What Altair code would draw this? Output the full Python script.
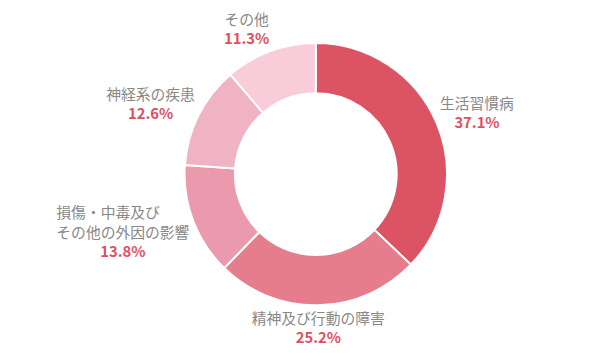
import math
import altair as alt
import pandas as pd

# ---- data ----
categories = ["生活習慣病", "精神及び行動の障害", "損傷・中毒及び\nその他の外因の影響", "神経系の疾患", "その他"]
values = [37.1, 25.2, 13.8, 12.6, 11.3]
pct_labels = ["37.1%", "25.2%", "13.8%", "12.6%", "11.3%"]

# ---- style ----
COLORS = ["#dc5464", "#e67d8c", "#ea9aac", "#efb3c3", "#f8ccd8"]
NAME_COLOR = "#888888"
PCT_COLOR = "#df4f5f"
FONT = "Noto Sans CJK JP"
FS = 15
LH = 19.5
R_OUT, R_IN = 133, 82
LABEL_R = 137

W, H = 560, 312
PAD = {"left": 32, "top": 10, "right": 0, "bottom": 30}

arc_df = pd.DataFrame({"idx": list(range(len(categories))), "category": categories, "value": values})

# label placement derived from each slice's mid-angle
total = sum(values)
rows = []
cum = 0.0
for i, (cat, v, pl) in enumerate(zip(categories, values, pct_labels)):
    mid = (cum + v / 2) / total * 2 * math.pi
    cum += v
    s, c = math.sin(mid), math.cos(mid)
    lines = cat.split("\n")
    name_w = max(len(l) for l in lines) * FS
    pct_w = len(pl) * FS * 0.6
    w = max(name_w, pct_w)
    n = len(lines) + 1
    h = n * LH
    side = 0 if abs(s) < 0.2 else (1 if s > 0 else -1)
    cx = LABEL_R * s + side * w / 2
    cy_down = -LABEL_R * c - (h / 2) * c  # screen y (down positive)
    top = cy_down - h / 2
    for j, l in enumerate(lines):
        rows.append({"kind": "name", "text": l, "x": cx - name_w / 2,
                     "y": -(top + LH * (j + 0.5))})
    rows.append({"kind": "pct", "text": pl, "x": cx, "y": -(top + LH * (len(lines) + 0.5))})
lab_df = pd.DataFrame(rows)

xs = alt.Scale(domain=[-W / 2, W / 2], nice=False, zero=False)
ys = alt.Scale(domain=[-H / 2, H / 2], nice=False, zero=False)

arc = alt.Chart(arc_df).mark_arc(
    outerRadius=R_OUT, innerRadius=R_IN, stroke="white", strokeWidth=2
).encode(
    theta=alt.Theta("value:Q", stack=True),
    color=alt.Color("category:N", scale=alt.Scale(domain=categories, range=COLORS), legend=None),
    order=alt.Order("idx:Q"),
)

names = alt.Chart(lab_df).transform_filter(alt.datum.kind == "name").mark_text(
    font=FONT, fontSize=FS, color=NAME_COLOR, align="left", baseline="middle"
).encode(
    x=alt.X("x:Q", scale=xs, axis=None),
    y=alt.Y("y:Q", scale=ys, axis=None),
    text="text:N",
)

pcts = alt.Chart(lab_df).transform_filter(alt.datum.kind == "pct").mark_text(
    font=FONT, fontSize=FS, fontWeight="bold", color=PCT_COLOR, align="center", baseline="middle"
).encode(
    x=alt.X("x:Q", scale=xs, axis=None),
    y=alt.Y("y:Q", scale=ys, axis=None),
    text="text:N",
)

chart = alt.layer(arc, names, pcts).properties(
    width=W, height=H, padding=PAD, autosize=alt.AutoSizeParams(type="none")
).configure_view(stroke=None)

chart.save("out.html", embed_options={"renderer": "svg", "actions": False})
